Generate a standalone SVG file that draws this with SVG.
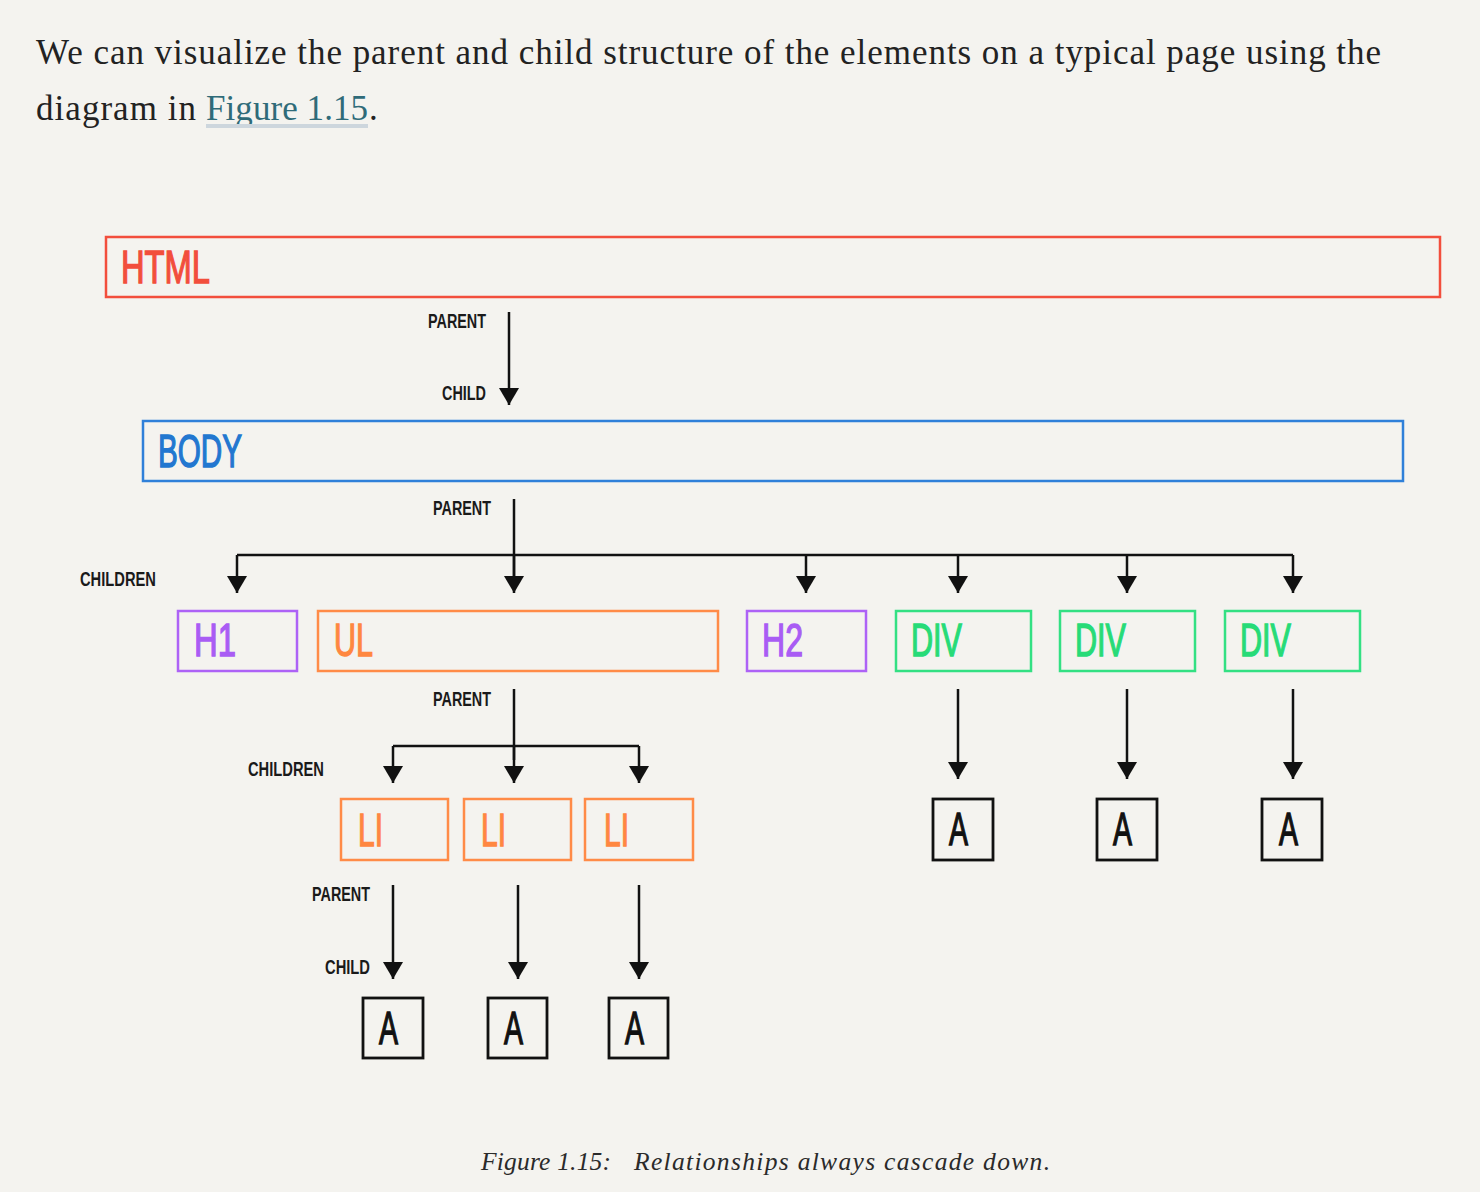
<svg xmlns="http://www.w3.org/2000/svg" width="1480" height="1192" viewBox="0 0 1480 1192">
<defs>
<style>
.para{font-family:"Liberation Serif","DejaVu Serif",serif;font-size:35px;fill:#222}
.link{fill:#2f6b79}
.cap{font-family:"Liberation Serif","DejaVu Serif",serif;font-size:25.5px;font-style:italic;fill:#2a2a2a}
.box{fill:none;stroke-width:2.5}
.big{font-family:"Liberation Sans","Arial",sans-serif;font-weight:normal;font-size:46px;stroke-width:1.4}
.lbl{font-family:"Liberation Sans","Arial",sans-serif;font-weight:bold;font-size:20px;fill:#1a1a1a}
.red{stroke:#f24e3c}.tred{fill:#f24e3c;stroke:#f24e3c}
.blue{stroke:#2f80d9}.tblue{fill:#2277d0;stroke:#2277d0}
.pur{stroke:#ad62f6}.tpur{fill:#a95cf4;stroke:#a95cf4}
.org{stroke:#ff8b47}.torg{fill:#ff8740;stroke:#ff8740}
.grn{stroke:#33e083}.tgrn{fill:#27db77;stroke:#27db77}
.blk{stroke:#111;stroke-width:2.8}.tblk{fill:#111;stroke:#111}
.ln{stroke:#111;stroke-width:2.5;fill:none}
.arr{stroke:#111;stroke-width:2.5;fill:none;marker-end:url(#ah)}
</style>
<marker id="ah" markerUnits="userSpaceOnUse" markerWidth="18" markerHeight="20" viewBox="0 0 17 20" refX="17" refY="10" orient="auto">
<path d="M0,0 L17,10 L0,20 z" fill="#111"/>
</marker>
</defs>
<rect width="1480" height="1192" fill="#f4f3ef"/>

<g id="intro">
<text class="para" x="36" y="64" textLength="1345" lengthAdjust="spacing">We can visualize the parent and child structure of the elements on a typical page using the</text>
<text class="para" x="36" y="120"><tspan textLength="160" lengthAdjust="spacing">diagram in</tspan><tspan class="link" x="206" textLength="162" lengthAdjust="spacing">Figure 1.15</tspan><tspan x="369">.</tspan></text>
<rect x="206" y="124" width="162" height="4" fill="#cdd6dd"/>
</g>

<g id="connectors">
<line class="arr" x1="509" y1="312" x2="509" y2="405"/>
<line class="ln" x1="514" y1="499" x2="514" y2="580"/>
<line class="ln" x1="237" y1="555" x2="1293" y2="555"/>
<line class="arr" x1="237" y1="555" x2="237" y2="593"/>
<line class="arr" x1="514" y1="555" x2="514" y2="593"/>
<line class="arr" x1="806" y1="555" x2="806" y2="593"/>
<line class="arr" x1="958" y1="555" x2="958" y2="593"/>
<line class="arr" x1="1127" y1="555" x2="1127" y2="593"/>
<line class="arr" x1="1293" y1="555" x2="1293" y2="593"/>
<line class="ln" x1="514" y1="689" x2="514" y2="760"/>
<line class="ln" x1="393" y1="746" x2="639" y2="746"/>
<line class="arr" x1="393" y1="746" x2="393" y2="783"/>
<line class="arr" x1="514" y1="746" x2="514" y2="783"/>
<line class="arr" x1="639" y1="746" x2="639" y2="783"/>
<line class="arr" x1="393" y1="885" x2="393" y2="979"/>
<line class="arr" x1="518" y1="885" x2="518" y2="979"/>
<line class="arr" x1="639" y1="885" x2="639" y2="979"/>
<line class="arr" x1="958" y1="689" x2="958" y2="779"/>
<line class="arr" x1="1127" y1="689" x2="1127" y2="779"/>
<line class="arr" x1="1293" y1="689" x2="1293" y2="779"/>
</g>

<g id="labels">
<text class="lbl" x="428" y="328" textLength="58" lengthAdjust="spacingAndGlyphs">PARENT</text>
<text class="lbl" x="442" y="400" textLength="44" lengthAdjust="spacingAndGlyphs">CHILD</text>
<text class="lbl" x="433" y="515" textLength="58" lengthAdjust="spacingAndGlyphs">PARENT</text>
<text class="lbl" x="80" y="586" textLength="76" lengthAdjust="spacingAndGlyphs">CHILDREN</text>
<text class="lbl" x="433" y="706" textLength="58" lengthAdjust="spacingAndGlyphs">PARENT</text>
<text class="lbl" x="248" y="776" textLength="76" lengthAdjust="spacingAndGlyphs">CHILDREN</text>
<text class="lbl" x="312" y="901" textLength="58" lengthAdjust="spacingAndGlyphs">PARENT</text>
<text class="lbl" x="325" y="974" textLength="45" lengthAdjust="spacingAndGlyphs">CHILD</text>
</g>

<g id="html"><rect class="box red" x="106" y="237" width="1334" height="60"/><text class="big tred" x="121" y="283" textLength="89" lengthAdjust="spacingAndGlyphs">HTML</text></g>
<g id="body"><rect class="box blue" x="143" y="421" width="1260" height="60"/><text class="big tblue" x="158" y="467" textLength="84" lengthAdjust="spacingAndGlyphs">BODY</text></g>

<g id="h1"><rect class="box pur" x="178" y="611" width="119" height="60"/><text class="big tpur" x="194" y="656" textLength="42" lengthAdjust="spacingAndGlyphs">H1</text></g>
<g id="ul"><rect class="box org" x="318" y="611" width="400" height="60"/><text class="big torg" x="334" y="656" textLength="39" lengthAdjust="spacingAndGlyphs">UL</text></g>
<g id="h2"><rect class="box pur" x="747" y="611" width="119" height="60"/><text class="big tpur" x="762" y="656" textLength="41" lengthAdjust="spacingAndGlyphs">H2</text></g>
<g id="div1"><rect class="box grn" x="896" y="611" width="135" height="60"/><text class="big tgrn" x="911" y="656" textLength="51" lengthAdjust="spacingAndGlyphs">DIV</text></g>
<g id="div2"><rect class="box grn" x="1060" y="611" width="135" height="60"/><text class="big tgrn" x="1075" y="656" textLength="51" lengthAdjust="spacingAndGlyphs">DIV</text></g>
<g id="div3"><rect class="box grn" x="1225" y="611" width="135" height="60"/><text class="big tgrn" x="1240" y="656" textLength="51" lengthAdjust="spacingAndGlyphs">DIV</text></g>

<g id="li1"><rect class="box org" x="341" y="799" width="107" height="61"/><text class="big torg" x="358" y="846" textLength="25" lengthAdjust="spacingAndGlyphs">LI</text></g>
<g id="li2"><rect class="box org" x="464" y="799" width="107" height="61"/><text class="big torg" x="481" y="846" textLength="25" lengthAdjust="spacingAndGlyphs">LI</text></g>
<g id="li3"><rect class="box org" x="585" y="799" width="108" height="61"/><text class="big torg" x="604" y="846" textLength="25" lengthAdjust="spacingAndGlyphs">LI</text></g>

<g id="a-div1"><rect class="box blk" x="933" y="799" width="60" height="61"/><text class="big tblk" x="949" y="845" textLength="19" lengthAdjust="spacingAndGlyphs">A</text></g>
<g id="a-div2"><rect class="box blk" x="1097" y="799" width="60" height="61"/><text class="big tblk" x="1113" y="845" textLength="19" lengthAdjust="spacingAndGlyphs">A</text></g>
<g id="a-div3"><rect class="box blk" x="1262" y="799" width="60" height="61"/><text class="big tblk" x="1279" y="845" textLength="19" lengthAdjust="spacingAndGlyphs">A</text></g>

<g id="a-li1"><rect class="box blk" x="363" y="998" width="60" height="60"/><text class="big tblk" x="379" y="1044" textLength="19" lengthAdjust="spacingAndGlyphs">A</text></g>
<g id="a-li2"><rect class="box blk" x="488" y="998" width="59" height="60"/><text class="big tblk" x="504" y="1044" textLength="19" lengthAdjust="spacingAndGlyphs">A</text></g>
<g id="a-li3"><rect class="box blk" x="609" y="998" width="59" height="60"/><text class="big tblk" x="625" y="1044" textLength="19" lengthAdjust="spacingAndGlyphs">A</text></g>

<g id="caption">
<text class="cap" x="481" y="1170"><tspan textLength="130" lengthAdjust="spacing">Figure 1.15:</tspan><tspan x="634" textLength="416" lengthAdjust="spacing">Relationships always cascade down.</tspan></text>
</g>
</svg>
